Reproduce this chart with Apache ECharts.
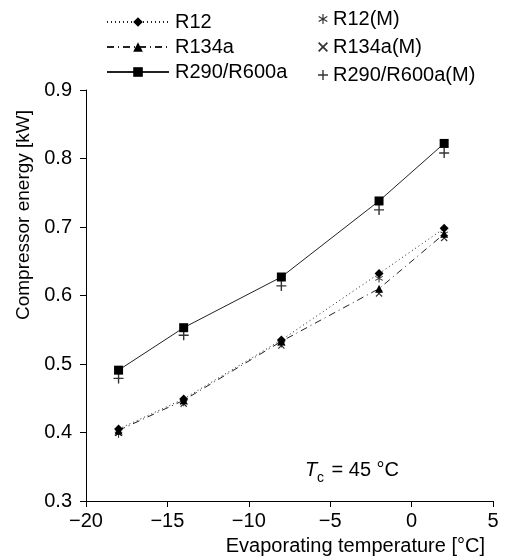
<!DOCTYPE html>
<html>
<head>
<meta charset="utf-8">
<script src="https://cdn.jsdelivr.net/npm/echarts@6/dist/echarts.min.js"></script>
<style>html,body{margin:0;padding:0;background:#fff;}#c{width:509px;height:558px;}</style>
</head>
<body>
<div id="c"></div>
<script>
var temps = [-18, -14, -8, -2, 2];
var r12 = [0.405, 0.449, 0.535, 0.632, 0.698];
var r134a = [0.403, 0.447, 0.533, 0.610, 0.690];
var r290 = [0.491, 0.553, 0.627, 0.738, 0.822];
var r12M = [0.398, 0.444, 0.530, 0.625, 0.690];
var r134aM = [0.400, 0.442, 0.527, 0.603, 0.684];
var r290M = [0.479, 0.542, 0.614, 0.725, 0.808];
var xTicks = [-20, -15, -10, -5, 0, 5];
var yTicks = [0.3, 0.4, 0.5, 0.6, 0.7, 0.8, 0.9];

function pairs(v){ return temps.map(function(t,i){ return [t, v[i]]; }); }
var FONT = '"Liberation Sans", Arial, sans-serif';
var plusPath = 'path://M-0.7,-5 L0.7,-5 L0.7,-0.7 L5,-0.7 L5,0.7 L0.7,0.7 L0.7,5 L-0.7,5 L-0.7,0.7 L-5,0.7 L-5,-0.7 L-0.7,-0.7 Z';
var crossPath = 'path://M3.04,-4.03 L4.03,-3.04 L0.99,0 L4.03,3.04 L3.04,4.03 L0,0.99 L-3.04,4.03 L-4.03,3.04 L-0.99,0 L-4.03,-3.04 L-3.04,-4.03 L0,-0.99 Z';
var starPath = 'path://M-0.6,-5 L0.6,-5 L0.6,5 L-0.6,5 Z M4.03,3.02 L-4.63,-1.98 L-4.03,-3.02 L4.63,1.98 Z M4.63,-1.98 L-4.03,3.02 L-4.63,1.98 L4.03,-3.02 Z';

var chart = echarts.init(document.getElementById('c'));
var lineCommon = {type:'line', showSymbol:true, z:3};
chart.setOption({
  animation:false,
  backgroundColor:'#fff',
  textStyle:{fontFamily:FONT, color:'#000'},
  grid:{left:86, right:16, top:90, bottom:57},
  legend:[{
    data:['R12','R134a','R290/R600a'],
    orient:'vertical', left:101, top:7,
    itemWidth:62, itemHeight:12, itemGap:5,
    textStyle:{fontSize:20, color:'#000', fontFamily:FONT, padding:[0,0,0,1], lineHeight:20}
  },{
    data:['R12(M)','R134a(M)','R290/R600a(M)'],
    orient:'vertical', left:313, top:4,
    itemWidth:10, itemHeight:10, itemGap:8,
    textStyle:{fontSize:20, color:'#000', fontFamily:FONT, padding:[0,0,0,0], lineHeight:18}
  }],
  xAxis:{
    type:'value', min:-20, max:5, interval:5,
    axisLine:{onZero:false, lineStyle:{color:'#000', width:1}},
    axisTick:{length:6, lineStyle:{color:'#000'}},
    splitLine:{show:false},
    axisLabel:{color:'#000', fontSize:20, fontFamily:FONT, margin:10, showMaxLabel:true,
      formatter:function(v){ return v<0 ? '\u2212'+Math.abs(v) : String(v); }}
  },
  yAxis:{
    type:'value', min:0.3, max:0.9, interval:0.1,
    axisLine:{show:true, onZero:false, lineStyle:{color:'#000', width:1}},
    axisTick:{show:true, length:6, lineStyle:{color:'#000'}},
    splitLine:{show:false},
    axisLabel:{color:'#000', fontSize:20, fontFamily:FONT, margin:14,
      formatter:function(v){ return v.toFixed(1); }}
  },
  series:[
    Object.assign({}, lineCommon, {name:'R12', data:pairs(r12), symbol:'diamond', symbolSize:9,
      lineStyle:{color:'#222', width:1, type:[1,3]}, itemStyle:{color:'#000'}}),
    Object.assign({}, lineCommon, {name:'R134a', data:pairs(r134a), symbol:'triangle', symbolSize:8,
      lineStyle:{color:'#222', width:1, type:[7,4,1,4]}, itemStyle:{color:'#000'}}),
    Object.assign({}, lineCommon, {name:'R290/R600a', data:pairs(r290), symbol:'rect', symbolSize:9,
      lineStyle:{color:'#222', width:1, type:'solid'}, itemStyle:{color:'#000'}}),
    {type:'scatter', name:'R12(M)', data:pairs(r12M), symbol:starPath, symbolSize:8, itemStyle:{color:'#000'}, z:4},
    {type:'scatter', name:'R134a(M)', data:pairs(r134aM), symbol:crossPath, symbolSize:7, itemStyle:{color:'#000'}, z:4},
    {type:'scatter', name:'R290/R600a(M)', data:pairs(r290M), symbol:plusPath, symbolSize:10, itemStyle:{color:'#000'}, z:4}
  ],
  graphic:[
    {type:'text', rotation:Math.PI/2, x:24, y:215,
      style:{text:'Compressor energy [kW]', font:'19px '+FONT, fill:'#000', textAlign:'center', textVerticalAlign:'middle'}},
    {type:'text', x:485, y:546,
      style:{text:'Evaporating temperature [\u00b0C]', font:'20px '+FONT, fill:'#000', textAlign:'right', textVerticalAlign:'middle'}},
    {type:'text', x:305, y:470,
      style:{text:'T', font:'italic 20px '+FONT, fill:'#000', textAlign:'left', textVerticalAlign:'middle'}},
    {type:'text', x:317, y:478,
      style:{text:'c', font:'14px '+FONT, fill:'#000', textAlign:'left', textVerticalAlign:'middle'}},
    {type:'text', x:326, y:470,
      style:{text:' = 45 \u00b0C', font:'20px '+FONT, fill:'#000', textAlign:'left', textVerticalAlign:'middle'}}
  ]
});
</script>
</body>
</html>
